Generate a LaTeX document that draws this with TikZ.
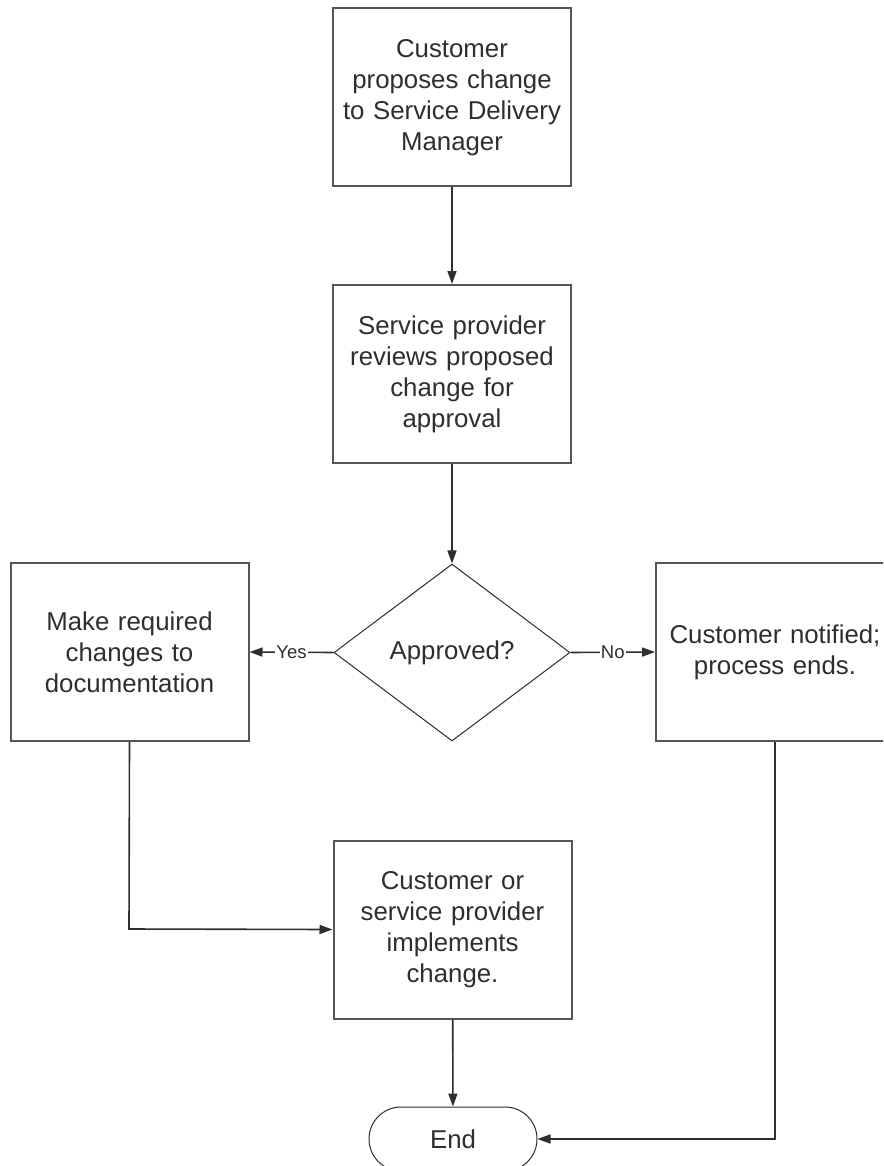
\documentclass[tikz,border=0pt]{standalone}
\usepackage{fontspec}
\setmainfont{Liberation Sans}
\usetikzlibrary{shapes.geometric,arrows.meta}
\definecolor{edge}{HTML}{555555}
\definecolor{ink}{HTML}{2E2E2E}
\tikzset{
  procbox/.style={draw=edge, line width=2pt, fill=white, minimum width=238pt, minimum height=178pt,
    inner sep=0pt, align=center, text=ink, text width=230pt,
    font=\fontsize{25.8}{31}\selectfont},
  decbox/.style={diamond, draw=ink, line width=1pt, minimum width=236pt, minimum height=177pt,
    inner sep=0pt, align=center, text=ink, font=\fontsize{25.8}{31}\selectfont},
  termbox/.style={draw=ink, line width=1pt, rounded corners=32pt, minimum width=168pt, minimum height=64pt,
    inner sep=0pt, text=ink, font=\fontsize{25.8}{31}\selectfont},
  conn/.style={draw=ink, line width=1.6pt, -{Triangle[length=13pt,width=9pt]}},
  edgelabel/.style={fill=white, inner sep=1pt, text=ink, font=\fontsize{18.5}{20}\selectfont}
}
\begin{document}
\begin{tikzpicture}[x=1pt,y=-1pt]
\useasboundingbox (0,0) rectangle (883,1166);
\clip (0,0) rectangle (883,1166);
\fill[white] (0,0) rectangle (883,1166);
\node[procbox] (b1) at (452,97.5) {Customer\\proposes change\\to Service Delivery\\Manager};
\node[procbox] (b2) at (452,374) {Service provider\\reviews proposed\\change for\\approval};
\node[decbox] (d) at (452,652.5) {Approved?};
\node[procbox] (l) at (129.5,652) {Make required\\changes to\\documentation};
\node[procbox] (r) at (775,652) {Customer notified;\\process ends.};
\node[procbox] (b5) at (452.5,929.5) {Customer or\\service provider\\implements\\change.};
\node[termbox] (e) at (453,1139) {End};
\coordinate (lc) at (129,929);
\coordinate (rc) at (775,1139);
\draw[conn] (b1) -- (b2);
\draw[conn] (b2) -- (d);
\draw[conn] (d.west) -- node[edgelabel]{Yes} (l.east);
\draw[conn] (d.east) -- node[edgelabel]{No} (r.west);
\draw[conn] (l.south) -- (lc) -- (b5.west);
\draw[conn] (b5) -- (e);
\draw[conn] (r.south -| rc) -- (rc) -- (e.east);
\end{tikzpicture}
\end{document}
